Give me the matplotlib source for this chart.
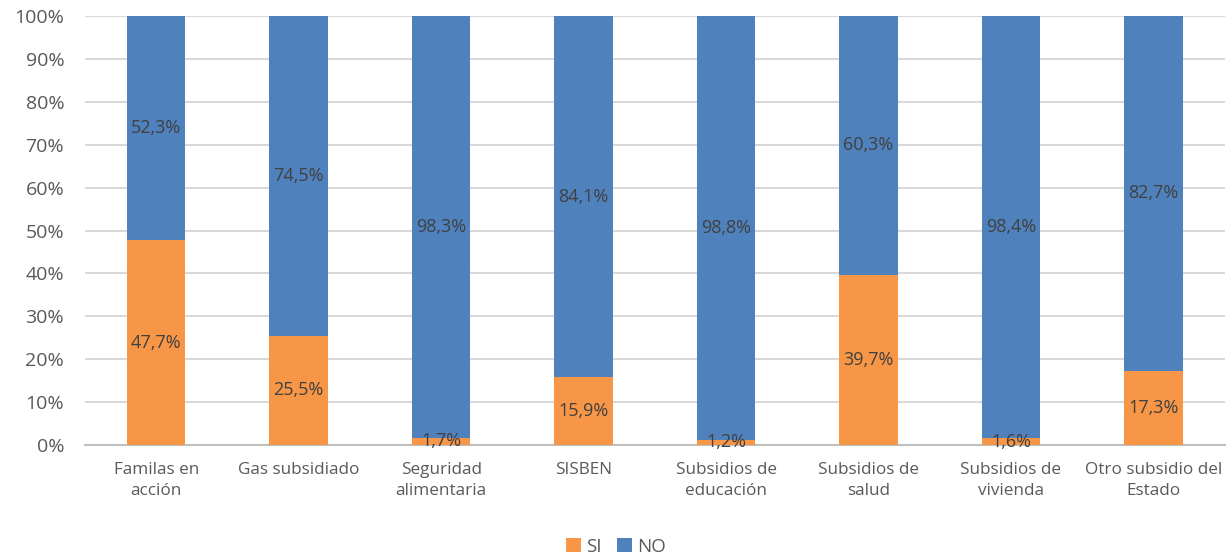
import numpy as np
import matplotlib.pyplot as plt
from matplotlib.ticker import PercentFormatter

categorias = ['Familas en\nacción', 'Gas subsidiado', 'Seguridad\nalimentaria', 'SISBEN',
              'Subsidios de\neducación', 'Subsidios de\nsalud', 'Subsidios de\nvivienda',
              'Otro subsidio del\nEstado']
si = [47.7, 25.5, 1.7, 15.9, 1.2, 39.7, 1.6, 17.3]
no = [52.3, 74.5, 98.3, 84.1, 98.8, 60.3, 98.4, 82.7]

naranja = '#F79646'
azul = '#4F81BD'
gris = '#595959'

plt.rcParams['font.family'] = ['Open Sans', 'DejaVu Sans']

fig = plt.figure(figsize=(12.32, 5.57), dpi=100)
ax = fig.add_axes([0.069, 0.201, 0.925, 0.770])

x = np.arange(len(categorias))
ancho = 0.41
b1 = ax.bar(x, si, ancho, color=naranja, label='SI', zorder=3)
b2 = ax.bar(x, no, ancho, bottom=si, color=azul, label='NO', zorder=3)

def fmt(v):
    return ('%.1f%%' % v).replace('.', ',')

for i in range(len(x)):
    ax.text(x[i], si[i] / 2, fmt(si[i]), ha='center', va='center', fontsize=13, color='#404040', zorder=4)
    ax.text(x[i], si[i] + no[i] / 2, fmt(no[i]), ha='center', va='center', fontsize=13, color='#404040', zorder=4)

ax.set_xlim(-0.5, len(categorias) - 0.5)
ax.set_ylim(0, 100)
ax.set_yticks(np.arange(0, 101, 10))
ax.yaxis.set_major_formatter(PercentFormatter(decimals=0))
ax.set_xticks(x)
ax.set_xticklabels(categorias, fontsize=12.3, color=gris, linespacing=1.45)
ax.tick_params(axis='y', labelsize=14, colors=gris, length=0, pad=15)
ax.tick_params(axis='x', length=0, pad=12)
ax.grid(axis='y', color='#D9D9D9', linewidth=1.5, zorder=0)
for s in ['top', 'right', 'left']:
    ax.spines[s].set_visible(False)
ax.spines['bottom'].set_color('#BFBFBF')
ax.spines['bottom'].set_linewidth(1.5)

fig.legend(handles=[b1, b2], loc='lower center', bbox_to_anchor=(0.5, -0.028), ncol=2, frameon=False,
           fontsize=13.5, labelcolor=gris, handlelength=0.8, handleheight=0.8, handletextpad=0.3, columnspacing=0.8)

fig.savefig('out.png', dpi=100)
